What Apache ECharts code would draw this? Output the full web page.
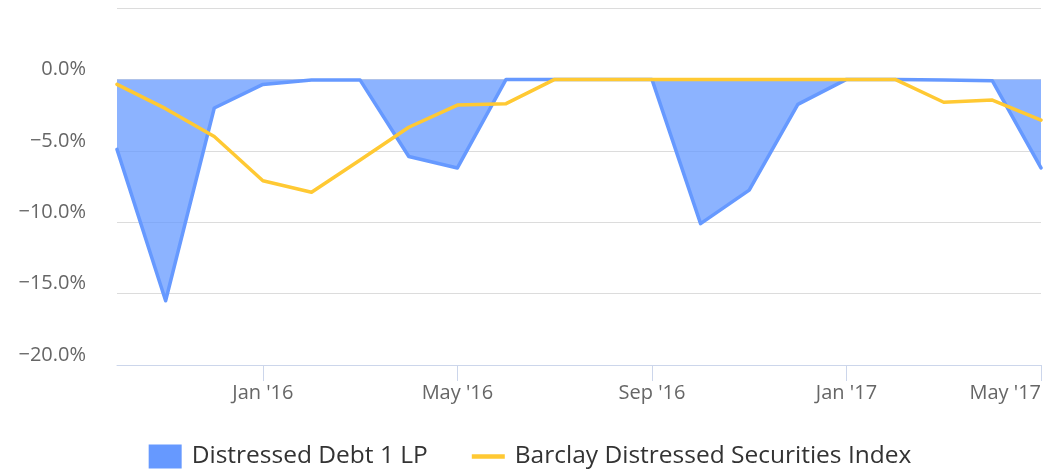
<!DOCTYPE html>
<html>
<head>
<meta charset="utf-8">
<script src="https://cdn.jsdelivr.net/npm/echarts@6/dist/echarts.min.js"></script>
<style>
  html, body { margin: 0; padding: 0; background: #ffffff; }
  #chart { width: 1060px; height: 475px; }
</style>
</head>
<body>
<div id="chart"></div>
<script>
// Months (monthly points, Oct 2015 – May 2017)
const categories = [
  "Oct '15", "Nov '15", "Dec '15", "Jan '16", "Feb '16", "Mar '16", "Apr '16",
  "May '16", "Jun '16", "Jul '16", "Aug '16", "Sep '16", "Oct '16", "Nov '16",
  "Dec '16", "Jan '17", "Feb '17", "Mar '17", "Apr '17", "May '17"
];
// Drawdown (%) – Distressed Debt 1 LP
const fundValues = [
  -4.9, -15.5, -2.0, -0.35, -0.05, -0.05, -5.4,
  -6.2, 0, 0, 0, 0, -10.1, -7.75,
  -1.75, 0, 0, -0.05, -0.1, -6.2
];
// Drawdown (%) – Barclay Distressed Securities Index
const indexValues = [
  -0.35, -2.05, -4.0, -7.1, -7.9, -5.65, -3.35,
  -1.8, -1.7, 0, 0, 0, 0, 0,
  0, 0, 0, -1.6, -1.45, -2.85
];
// Which categories carry an x-axis tick label
const xTickLabels = ["Jan '16", "May '16", "Sep '16", "Jan '17", "May '17"];
// Y axis ticks
const yTicks = [-20, -15, -10, -5, 0, 5];

const fontFamily = '"Open Sans", "DejaVu Sans", sans-serif';
const showTick = (idx) => xTickLabels.indexOf(categories[idx]) !== -1;

const chart = echarts.init(document.getElementById('chart'), null, { renderer: 'canvas' });
chart.setOption({
  animation: false,
  backgroundColor: '#ffffff',
  grid: { left: 117, right: 19, top: 8, bottom: 110, containLabel: false },
  legend: {
    bottom: 6,
    left: 'center',
    padding: 0,
    itemWidth: 33,
    itemHeight: 24,
    itemGap: 44,
    symbolKeepAspect: true,
    textStyle: { fontFamily: fontFamily, fontSize: 24.5, color: '#333333', padding: [0, 0, 0, 5] },
    data: [
      { name: 'Distressed Debt 1 LP', icon: 'rect' },
      { name: 'Barclay Distressed Securities Index', icon: 'path://M0,0 L31,0 L31,4 L0,4 Z' }
    ]
  },
  xAxis: {
    type: 'category',
    data: categories,
    boundaryGap: false,
    axisLine: { show: true, onZero: false, lineStyle: { color: '#ccd6eb', width: 1 } },
    axisTick: { show: true, length: 16, interval: (i) => showTick(i), lineStyle: { color: '#ccd6eb' } },
    axisLabel: {
      interval: (i) => showTick(i),
      margin: 18,
      fontFamily: fontFamily,
      fontSize: 20,
      color: '#666666',
      alignMaxLabel: 'right'
    },
    splitLine: { show: false }
  },
  yAxis: {
    type: 'value',
    min: yTicks[0],
    max: yTicks[yTicks.length - 1],
    interval: 5,
    axisLine: { show: false },
    axisTick: { show: false },
    axisLabel: {
      margin: 31,
      fontFamily: fontFamily,
      fontSize: 20,
      lineHeight: 20,
      color: '#666666',
      verticalAlign: 'bottom',
      formatter: (v) => v === yTicks[yTicks.length - 1] ? '' : (v < 0 ? '\u2212' : '') + Math.abs(v).toFixed(1) + '%'
    },
    splitLine: { show: true, lineStyle: { color: '#dcdcdc', width: 1 } }
  },
  series: [
    {
      name: 'Distressed Debt 1 LP',
      type: 'line',
      data: fundValues,
      symbol: 'none',
      smooth: false,
      itemStyle: { color: '#6699ff' },
      lineStyle: { color: '#6699ff', width: 3.5, join: 'round', cap: 'round' },
      areaStyle: { color: '#6699ff', opacity: 0.75, origin: 0 },
      z: 2
    },
    {
      name: 'Barclay Distressed Securities Index',
      type: 'line',
      data: indexValues,
      symbol: 'none',
      smooth: false,
      itemStyle: { color: '#ffc933' },
      lineStyle: { color: '#ffc933', width: 3.5, join: 'round', cap: 'round' },
      z: 3
    }
  ]
});
</script>
</body>
</html>
